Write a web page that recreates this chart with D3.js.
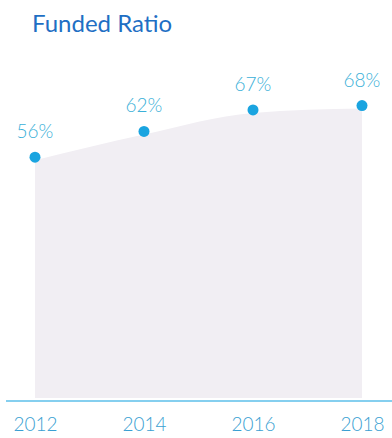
<!DOCTYPE html>
<html>
<head>
<meta charset="utf-8">
<script src="https://cdn.jsdelivr.net/npm/d3@7"></script>
<style>
  body { margin: 0; background: #fff; }
  svg { display: block; }
</style>
</head>
<body>
<div id="chart"></div>
<script>
// chart data
const years = ["2012", "2014", "2016", "2018"];
const fundedRatio = [56, 62, 67, 68];
const valueLabels = ["56%", "62%", "67%", "68%"];

const width = 392, height = 438;

const svg = d3.select("#chart").append("svg")
    .attr("width", width)
    .attr("height", height);

// scales
const x = d3.scalePoint()
    .domain(years)
    .range([35, 362]);

const y = d3.scaleLinear()
    .domain([0, 100])
    .range([398, -32]);

const data = years.map((yr, i) => ({ year: yr, value: fundedRatio[i], label: valueLabels[i] }));

// title
svg.append("text")
    .attr("x", 32)
    .attr("y", 32)
    .attr("fill", "#1f6fc4")
    .style("font-family", "Lato, 'Open Sans', sans-serif")
    .style("font-size", "24px")
    .text("Funded Ratio");

// shaded area under the values
const area = d3.area()
    .x(d => x(d.year))
    .y0(y(0))
    .y1(d => y(d.value) + 3)
    .curve(d3.curveMonotoneX);

svg.append("path")
    .datum(data)
    .attr("d", area)
    .attr("fill", "#f1eef3");

// baseline axis
const xAxis = svg.append("g")
    .attr("transform", `translate(0, ${401})`)
    .call(d3.axisBottom(x).tickSize(0).tickPadding(17));

xAxis.select(".domain")
    .attr("d", `M6,0H${width}`)
    .attr("stroke", "#5cbfea")
    .attr("stroke-width", 1.6);

xAxis.selectAll("text")
    .attr("fill", "#3a9fd2")
    .style("font-family", "Lato, 'Open Sans', sans-serif")
    .style("font-weight", 300)
    .style("font-size", "19px");

// points
svg.selectAll(".dot")
    .data(data)
    .enter().append("circle")
    .attr("class", "dot")
    .attr("cx", d => x(d.year))
    .attr("cy", d => y(d.value))
    .attr("r", 5.5)
    .attr("fill", "#1aa4e0");

// value labels
svg.selectAll(".val")
    .data(data)
    .enter().append("text")
    .attr("class", "val")
    .attr("x", d => x(d.year))
    .attr("y", d => y(d.value) - 19)
    .attr("text-anchor", "middle")
    .attr("fill", "#3ab0d8")
    .style("font-family", "Lato, 'Open Sans', sans-serif")
    .style("font-weight", 300)
    .style("font-size", "19px")
    .text(d => d.label);
</script>
</body>
</html>
